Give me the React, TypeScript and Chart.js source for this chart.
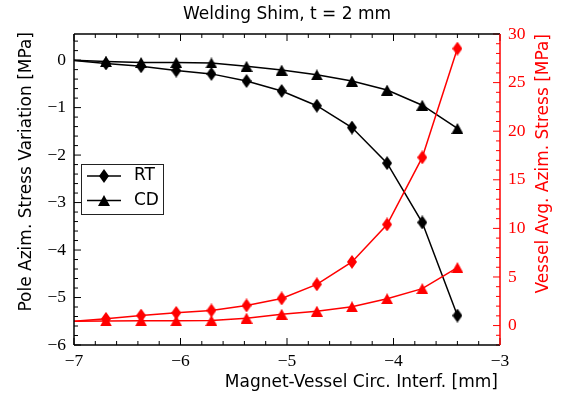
import React, { useEffect, useRef } from 'react';
import { Chart, registerables } from 'chart.js';

Chart.register(...registerables);

// ---- data ----
const interference = [-7.03, -6.7, -6.37, -6.04, -5.71, -5.38, -5.05, -4.72, -4.39, -4.06, -3.73, -3.4];
const poleRT = [0, -0.07, -0.13, -0.22, -0.29, -0.44, -0.65, -0.96, -1.42, -2.17, -3.42, -5.38];
const poleCD = [0, -0.03, -0.05, -0.05, -0.06, -0.13, -0.21, -0.31, -0.44, -0.63, -0.95, -1.44];
const vesselRT = [0.43, 0.69, 1.03, 1.31, 1.55, 2.07, 2.79, 4.24, 6.55, 10.4, 17.3, 28.5];
const vesselCD = [0.45, 0.48, 0.49, 0.49, 0.52, 0.76, 1.17, 1.48, 1.93, 2.76, 3.8, 5.97];

const xTicks = [-7, -6, -5, -4, -3];
const leftTicks = [-6, -5, -4, -3, -2, -1, 0];
const rightTicks = [0, 5, 10, 15, 20, 25, 30];
const xRange = [-7, -3];
const leftRange = [-6, 0.55];
const rightRange = [-2, 30];

const seriesNames = ['RT', 'CD'];
const titleText = 'Welding Shim, t = 2 mm';
const xLabel = 'Magnet-Vessel Circ. Interf. [mm]';
const leftLabel = 'Pole Azim. Stress Variation [MPa]';
const rightLabel = 'Vessel Avg. Azim. Stress [MPa]';

const RED = '#ff0000';
const BLACK = '#000000';
const SANS = '"DejaVu Sans", "Liberation Sans", sans-serif';
const SERIF = '"Liberation Serif", "Times New Roman", serif';

const fmt = (v: number) => (v < 0 ? '\u2212' + Math.abs(v) : String(v));

function makeDiamond(color: string) {
  const c = document.createElement('canvas');
  const w = 10, h = 14;
  c.width = w; c.height = h;
  const g = c.getContext('2d')!;
  g.fillStyle = color;
  g.beginPath();
  g.moveTo(w / 2, 0);
  g.lineTo(w, h / 2);
  g.lineTo(w / 2, h);
  g.lineTo(0, h / 2);
  g.closePath();
  g.fill();
  return c;
}
function makeTriangle(color: string) {
  const c = document.createElement('canvas');
  const w = 12, h = 11;
  c.width = w; c.height = h;
  const g = c.getContext('2d')!;
  g.fillStyle = color;
  g.beginPath();
  g.moveTo(w / 2, 0);
  g.lineTo(w, h);
  g.lineTo(0, h);
  g.closePath();
  g.fill();
  return c;
}

export default function App() {
  const ref = useRef<HTMLCanvasElement | null>(null);
  useEffect(() => {
    if (!ref.current) return;
    const dB = makeDiamond(BLACK), tB = makeTriangle(BLACK);
    const dR = makeDiamond(RED), tR = makeTriangle(RED);
    const radius = (ctx: any) => (ctx.dataIndex === 0 ? 0 : 6);
    const mk = (vals: number[]) => interference.map((x, i) => ({ x, y: vals[i] }));

    const deco = {
      id: 'deco',
      afterDraw(chart: any) {
        const { ctx, chartArea } = chart;
        const { left, right, top, bottom } = chartArea;
        const x = chart.scales.x, y = chart.scales.y, y1 = chart.scales.y1;
        ctx.save();
        const seg = (a: number, b: number, c: number, d: number) => {
          ctx.beginPath(); ctx.moveTo(a, b); ctx.lineTo(c, d); ctx.stroke();
        };
        ctx.lineWidth = 1;
        ctx.strokeStyle = BLACK;
        for (let i = 0; i <= Math.round((xRange[1] - xRange[0]) / 0.2); i++) {
          const v = xRange[0] + i * 0.2;
          const px = x.getPixelForValue(v);
          const major = xTicks.some((t) => Math.abs(t - v) < 1e-6);
          const len = major ? 7 : 4;
          seg(px, bottom, px, bottom - len);
          seg(px, top, px, top + len);
        }
        for (let i = 0; ; i++) {
          const v = leftRange[0] + i * 0.2;
          if (v > leftRange[1] + 1e-6) break;
          const py = y.getPixelForValue(v);
          const major = leftTicks.some((t) => Math.abs(t - v) < 1e-6);
          seg(left, py, left + (major ? 7 : 4), py);
        }
        ctx.strokeStyle = RED;
        for (let v = rightRange[0]; v <= rightRange[1]; v += 1) {
          const py = y1.getPixelForValue(v);
          const major = rightTicks.includes(v);
          seg(right, py, right - (major ? 7 : 4), py);
        }
        ctx.lineWidth = 1.5;
        ctx.strokeStyle = BLACK;
        seg(left, top, left, bottom);
        seg(left, top, right, top);
        seg(left, bottom, right, bottom);
        ctx.strokeStyle = RED;
        seg(right, top, right, bottom);

        ctx.fillStyle = BLACK;
        ctx.font = `17px ${SANS}`;
        ctx.textBaseline = 'middle';
        ctx.textAlign = 'center';
        ctx.fillText(titleText, (left + right) / 2, 15);
        ctx.textAlign = 'right';
        ctx.fillText(xLabel, right - 2, 383);
        ctx.save();
        ctx.translate(27, top - 2);
        ctx.rotate(-Math.PI / 2);
        ctx.textAlign = 'right';
        ctx.fillText(leftLabel, 0, 0);
        ctx.restore();
        ctx.save();
        ctx.fillStyle = RED;
        ctx.translate(544, top);
        ctx.rotate(-Math.PI / 2);
        ctx.textAlign = 'right';
        ctx.fillText(rightLabel, 0, 0);
        ctx.restore();

        const bx = 81, by = 164, bw = 82, bh = 50;
        ctx.fillStyle = '#ffffff';
        ctx.fillRect(bx, by, bw, bh);
        ctx.lineWidth = 1;
        ctx.strokeStyle = '#222222';
        ctx.strokeRect(bx + 0.5, by + 0.5, bw, bh);
        const rows = [
          { name: seriesNames[0], img: dB, yy: 176 },
          { name: seriesNames[1], img: tB, yy: 200.5 },
        ];
        ctx.strokeStyle = BLACK;
        ctx.lineWidth = 1.5;
        ctx.fillStyle = BLACK;
        ctx.textAlign = 'left';
        for (const r of rows) {
          seg(87, r.yy, 121, r.yy);
          ctx.drawImage(r.img, 104 - r.img.width / 2, r.yy - r.img.height / 2);
          ctx.fillText(r.name, 134, r.yy);
        }
        ctx.restore();
      },
    };

    const chart = new Chart(ref.current, {
      type: 'line',
      data: {
        datasets: [
          { label: 'RT vessel', data: mk(vesselRT), yAxisID: 'y1', borderColor: RED, backgroundColor: RED, borderWidth: 1.5, pointStyle: dR as any, pointRadius: radius, order: 0, clip: 0 as any },
          { label: 'CD vessel', data: mk(vesselCD), yAxisID: 'y1', borderColor: RED, backgroundColor: RED, borderWidth: 1.5, pointStyle: tR as any, pointRadius: radius, order: 0, clip: 0 as any },
          { label: 'RT', data: mk(poleRT), yAxisID: 'y', borderColor: BLACK, backgroundColor: BLACK, borderWidth: 1.5, pointStyle: dB as any, pointRadius: radius, order: 1, clip: 0 as any },
          { label: 'CD', data: mk(poleCD), yAxisID: 'y', borderColor: BLACK, backgroundColor: BLACK, borderWidth: 1.5, pointStyle: tB as any, pointRadius: radius, order: 1, clip: 0 as any },
        ],
      },
      options: {
        animation: false,
        responsive: false,
        events: [],
        layout: { padding: { top: 34, left: 0, right: 0, bottom: 0 } },
        plugins: { legend: { display: false }, title: { display: false }, tooltip: { enabled: false } },
        scales: {
          x: {
            type: 'linear', position: 'bottom', min: xRange[0], max: xRange[1], bounds: 'data',
            grid: { display: false, drawTicks: false }, border: { display: false },
            afterBuildTicks: (s: any) => { s.ticks = xTicks.map((v) => ({ value: v })); },
            afterFit: (s: any) => { s.height = 53; },
            ticks: { autoSkip: false, maxRotation: 0, padding: 6, color: BLACK, font: { family: SERIF, size: 17.5 }, callback: (v: any) => fmt(Number(v)) },
          },
          y: {
            type: 'linear', position: 'left', min: leftRange[0], max: leftRange[1], bounds: 'data',
            grid: { display: false, drawTicks: false }, border: { display: false },
            afterBuildTicks: (s: any) => { s.ticks = leftTicks.map((v) => ({ value: v })); },
            afterFit: (s: any) => { s.width = 74; },
            ticks: { autoSkip: false, padding: 8, color: BLACK, font: { family: SERIF, size: 17.5 }, callback: (v: any) => fmt(Number(v)) },
          },
          y1: {
            type: 'linear', position: 'right', min: rightRange[0], max: rightRange[1], bounds: 'data',
            grid: { display: false, drawTicks: false }, border: { display: false },
            afterBuildTicks: (s: any) => { s.ticks = rightTicks.map((v) => ({ value: v })); },
            afterFit: (s: any) => { s.width = 63; },
            ticks: { autoSkip: false, padding: 8, color: RED, font: { family: SERIF, size: 17.5 }, callback: (v: any) => fmt(Number(v)) },
          },
        },
      },
      plugins: [deco],
    } as any);
    return () => chart.destroy();
  }, []);
  return (
    <div style={{ position: 'fixed', left: 0, top: 0, width: 563, height: 398, background: '#fff' }}>
      <canvas ref={ref} width={563} height={398} style={{ display: 'block' }} />
    </div>
  );
}
